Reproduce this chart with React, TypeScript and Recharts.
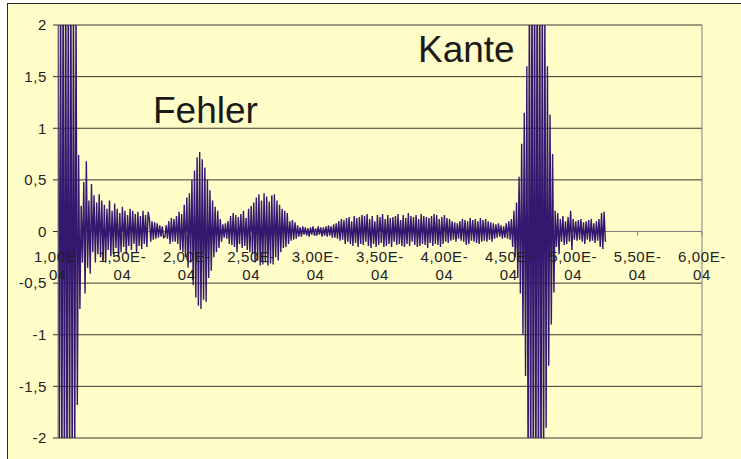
import React from "react";
import { LineChart, Line, XAxis, YAxis, CartesianGrid, ReferenceLine } from "recharts";

// sample grid of the recorded A-scan
const T0 = 1.0e-4;
const DT = 1.0e-6;

// amplitudes, segment by segment
const initialPulse = [2.6, -2.6, 2.7, -2.7, 2.8, -2.8, 2.8, -2.7, 2.7, -2.6, 2.5, -2.5, 2.4, -2.3, 2.2, -1.68];
const ringdown = [
  0.74, -0.75, 0.25, -0.3, 0.48, -0.6, 0.68, -0.35, 0.3, -0.41,
  0.46, -0.2, 0.35, -0.3, 0.28, -0.22, 0.36, -0.25, 0.3, -0.28,
  0.26, -0.3, 0.22, -0.18, 0.3, -0.24, 0.2, -0.22, 0.27, -0.16,
  0.22, -0.25, 0.18, -0.2, 0.24, -0.15, 0.2, -0.22, 0.16, -0.14,
  0.22, -0.18, 0.2, -0.12, 0.17, -0.2, 0.19, -0.14, 0.15, -0.17,
  0.2, -0.12, 0.16, -0.15, 0.19,
];
const quietGap = [0.12, -0.1, 0.1, -0.08, 0.09, -0.07, 0.08, -0.06, 0.06, -0.05, 0.05, -0.06, -0.05, 0.06, -0.07, 0.1, -0.12, 0.13, -0.1];
const fehlerEcho = [
  0.12, -0.1, 0.15, -0.12, 0.19, -0.18,
  0.17, -0.2, 0.26, -0.25, 0.33, -0.35, 0.37, -0.3,
  0.5, -0.52, 0.59, -0.64, 0.72, -0.72, 0.77, -0.75,
  0.7, -0.66, 0.62, -0.68, 0.5, -0.45, 0.4, -0.38,
  0.3, -0.25, 0.24, -0.2, 0.2, -0.16, 0.12, -0.1,
  0.07, -0.06, 0.08, -0.07, 0.1, -0.12, 0.15, -0.13,
];
const interEcho = [0.18, -0.15, 0.16, -0.2, 0.14, -0.12, 0.17, -0.16, 0.2, -0.14, 0.13, -0.18, 0.22, -0.2, 0.25];
const secondEcho = [
  -0.22, 0.28, -0.3, 0.33, -0.28, 0.36, -0.33, 0.3, -0.32, 0.37,
  -0.3, 0.34, -0.33, 0.29, -0.31, 0.35, -0.32, 0.36, -0.25, 0.3,
  -0.28, 0.26, -0.2, 0.22, -0.16, 0.2, -0.15, 0.18,
];
const echoTail = [-0.12, 0.1, -0.09, 0.11, -0.08, 0.09, -0.07, 0.06];
const quietBand = [
  -0.05, 0.04, -0.05, 0.05, -0.03, 0.04, -0.04, 0.03, -0.05, 0.04,
  -0.03, 0.05, -0.04, 0.03, -0.04, 0.05, -0.03, 0.04, -0.05, 0.04,
  -0.04, 0.05, -0.05, 0.06, -0.04, 0.05, -0.06, 0.07, -0.06,
];
const noiseRise = [0.08, -0.07, 0.1, -0.09, 0.12, -0.08, 0.11, -0.12, 0.13, -0.1, 0.14, -0.12, 0.1, -0.14, 0.15, -0.11, 0.13, -0.15, 0.14, -0.12, 0.16];
const noiseBand = [
  -0.13, 0.15, -0.1, 0.17, -0.14, 0.12, -0.16, 0.15, -0.12, 0.1,
  -0.15, 0.16, -0.13, 0.14, -0.11, 0.17, -0.15, 0.12, -0.14, 0.16,
  -0.12, 0.13, -0.15, 0.14, -0.1, 0.15, -0.13, 0.17, -0.12, 0.11,
  -0.14, 0.16, -0.15, 0.13, -0.12, 0.18, -0.14, 0.15, -0.1, 0.14,
  -0.13, 0.16, -0.15, 0.12, -0.14, 0.17, -0.12, 0.15, -0.13, 0.14,
  -0.16, 0.13, -0.11, 0.15, -0.14, 0.17, -0.12, 0.16, -0.13, 0.12,
  -0.15, 0.14, -0.12, 0.16, -0.1, 0.13, -0.11, 0.12, -0.09,
];
const preEdge = [
  0.1, -0.08, 0.09, -0.1, 0.08, -0.07, 0.1, -0.09,
  0.12, -0.1, 0.11, -0.13, 0.1, -0.12, 0.13, -0.09, 0.11, -0.1,
  0.12, -0.11, 0.1, -0.12, 0.13, -0.1, 0.11, -0.09, 0.12, -0.1,
  0.1, -0.08, 0.09, -0.1, 0.08, -0.07,
  0.07, -0.06, 0.08, -0.05, 0.06, -0.07, 0.05, -0.06, 0.08, -0.07,
  0.1, -0.08, 0.12,
];
const kanteEcho = [
  -0.15, 0.2, -0.25, 0.28, -0.45, 0.53, -0.6, 0.85, -1.0, 1.15,
  -1.4, 1.6, -2.4, 2.6, -2.7, 2.8, -2.8, 2.9, -2.9, 2.9,
  -2.8, 2.8, -2.7, 2.6, -2.4, 2.2, -1.9, 1.6, -1.3, 1.13,
  -0.9, 0.75, -0.59,
];
const tailNoise = [
  0.2, -0.15, 0.18, -0.22, 0.12, -0.1, 0.15, -0.13, 0.1, -0.12,
  0.14, -0.1, 0.2, -0.18, 0.12, -0.08,
  0.1, -0.09, 0.11, -0.08, 0.12, -0.1, 0.09, -0.12, 0.1, -0.08,
  0.11, -0.1, 0.12, -0.09, 0.08, -0.11, 0.1, -0.09, 0.12,
  -0.15, 0.18, -0.17, 0.19, -0.1,
];

const xTicks = [1.0e-4, 1.5e-4, 2.0e-4, 2.5e-4, 3.0e-4, 3.5e-4, 4.0e-4, 4.5e-4, 5.0e-4, 5.5e-4, 6.0e-4];
const xTickLabels = ["1,00E-04", "1,50E-04", "2,00E-04", "2,50E-04", "3,00E-04", "3,50E-04", "4,00E-04", "4,50E-04", "5,00E-04", "5,50E-04", "6,00E-04"];
const yTicks = [-2, -1.5, -1, -0.5, 0, 0.5, 1, 1.5, 2];

const amplitude = [
  ...initialPulse, ...ringdown, ...quietGap, ...fehlerEcho, ...interEcho, ...secondEcho,
  ...echoTail, ...quietBand, ...noiseRise, ...noiseBand, ...preEdge, ...kanteEcho, ...tailNoise,
];
const data = amplitude.map((v, i) => ({ t: T0 + i * DT, v }));

const FONT = "'Liberation Sans', Arial, sans-serif";
const PLOT_TOP = 25;
const PLOT_BOTTOM = 438;
const ZERO_Y = (PLOT_TOP + PLOT_BOTTOM) / 2;

function XTick(props: any) {
  const { x, payload } = props;
  const idx = xTicks.findIndex((t) => Math.abs(t - payload.value) < 1e-9);
  const label = xTickLabels[idx] ?? "";
  const head = label.slice(0, 6);
  const tail = label.slice(6);
  return (
    <g>
      <line x1={x} x2={x} y1={ZERO_Y} y2={ZERO_Y + 4} stroke="#808080" />
      <text x={x} y={ZERO_Y + 30} textAnchor="middle" fontSize={15} letterSpacing={0.6} fill="#222" fontFamily={FONT}>
        {head}
      </text>
      <text x={x} y={ZERO_Y + 48.5} textAnchor="middle" fontSize={15} letterSpacing={0.6} fill="#222" fontFamily={FONT}>
        {tail}
      </text>
    </g>
  );
}

export default function App() {
  return (
    <div style={{ position: "absolute", left: 0, top: 0, width: 741, height: 459, overflow: "hidden", background: "#fff" }}>
      <div
        style={{
          position: "absolute",
          left: 7,
          top: 3,
          width: 760,
          height: 480,
          border: "1.5px solid #2a2a2a",
          background: "#FFFDC8",
        }}
      />
      <div style={{ position: "absolute", left: 0, top: 0 }}>
        <LineChart width={741} height={459} data={data} margin={{ top: PLOT_TOP, right: 39, bottom: 459 - PLOT_BOTTOM - 1, left: 0 }}>
          <CartesianGrid vertical={false} stroke="#222" strokeOpacity={0.9} />
          <XAxis
            dataKey="t"
            type="number"
            domain={[1.0e-4, 6.0e-4]}
            ticks={xTicks}
            allowDataOverflow
            height={1}
            axisLine={false}
            tickLine={false}
            tick={<XTick />}
            interval={0}
          />
          <YAxis
            type="number"
            domain={[-2, 2]}
            ticks={yTicks}
            allowDataOverflow
            width={58}
            axisLine={{ stroke: "#808080" }}
            tickLine={{ stroke: "#333" }}
            tickSize={5}
            tickMargin={6}
            tick={{ fontSize: 15, fill: "#222", fontFamily: FONT, letterSpacing: 0.6 }}
            tickFormatter={(v: number) => String(v).replace(".", ",")}
          />
          <ReferenceLine x={6.0e-4} stroke="#808080" />
          <ReferenceLine y={0} stroke="#808080" />
          <Line
            type="linear"
            dataKey="v"
            stroke="#34176f"
            strokeWidth={1.4}
            dot={false}
            activeDot={false}
            isAnimationActive={false}
          />
        </LineChart>
      </div>
      <svg width={741} height={459} style={{ position: "absolute", left: 0, top: 0, pointerEvents: "none" }}>
        <text x={153} y={123} fontSize={37} fill="#1a1a1a" fontFamily={FONT}>
          Fehler
        </text>
        <text x={418} y={62} fontSize={37} fill="#1a1a1a" fontFamily={FONT}>
          Kante
        </text>
      </svg>
    </div>
  );
}
